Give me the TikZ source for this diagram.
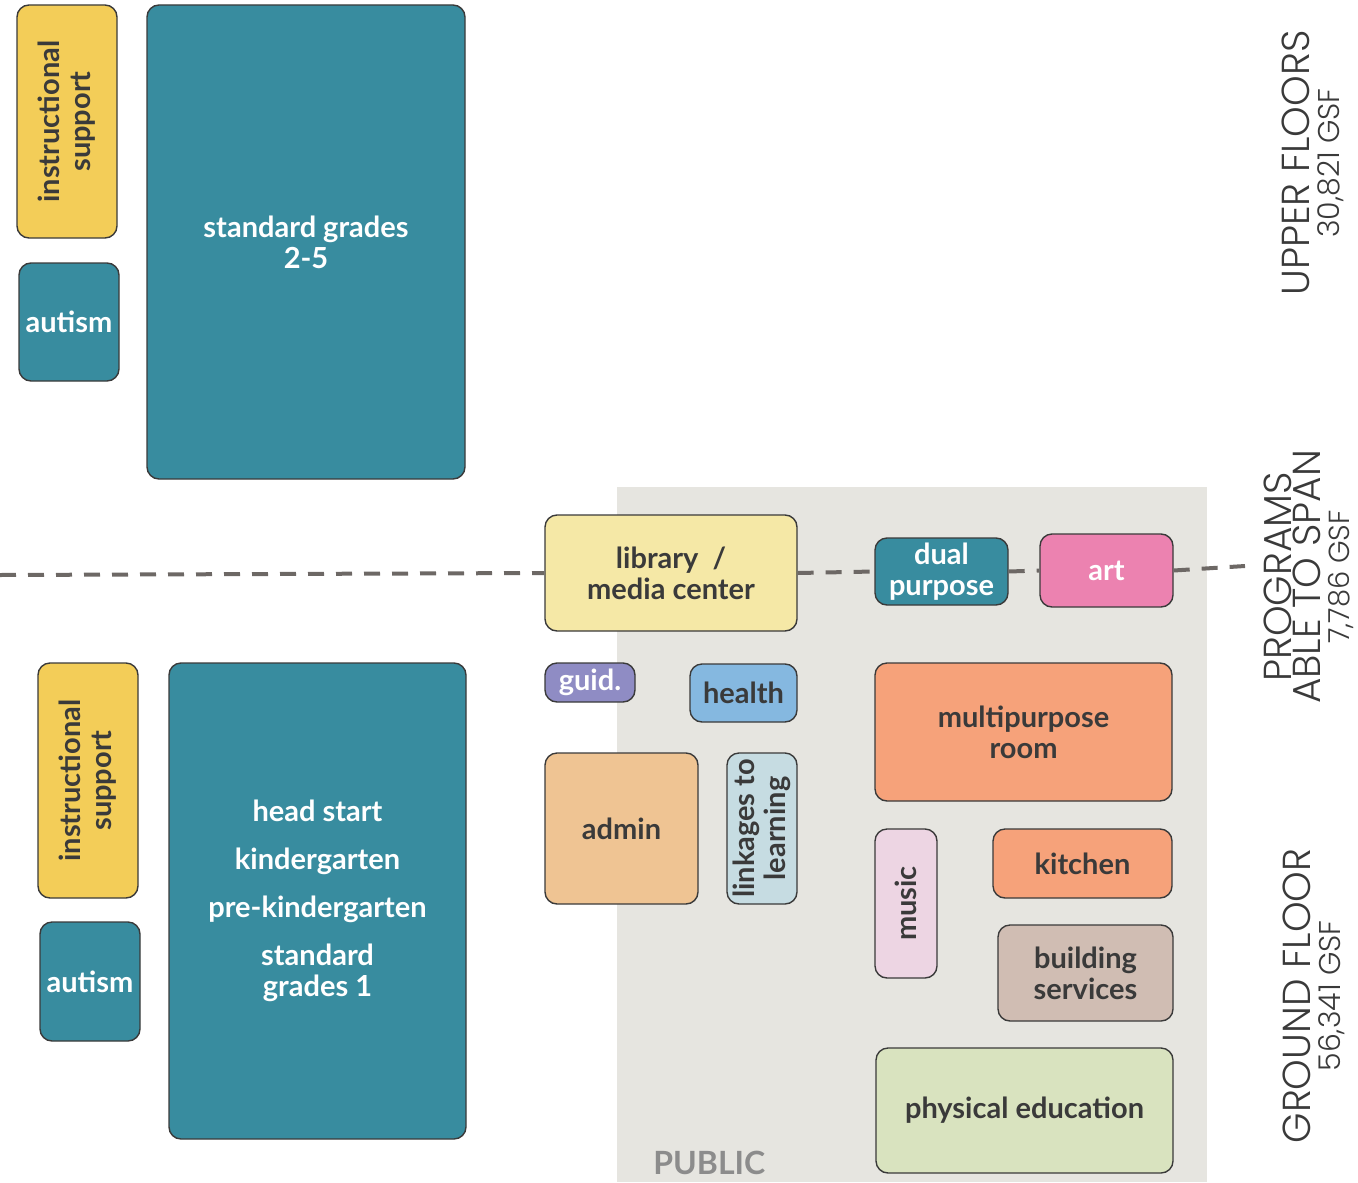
\documentclass[tikz,border=0pt]{standalone}
\usepackage{fontspec}
\IfFontExistsTF{Lato}{\setmainfont{Lato}}{\setmainfont{Open Sans}}
\IfFontExistsTF{Poppins Light}{\newfontfamily\floorfont{Poppins Light}}{\newfontfamily\floorfont{Lato}}
\definecolor{ink}{HTML}{3A3A3A}
\definecolor{teal}{HTML}{388C9F}
\definecolor{instr}{HTML}{F3CD58}
\definecolor{libcol}{HTML}{F5E8A6}
\definecolor{artcol}{HTML}{EC82B0}
\definecolor{guidcol}{HTML}{8F8CC4}
\definecolor{healthcol}{HTML}{85B8E0}
\definecolor{orangecol}{HTML}{F6A27A}
\definecolor{admincol}{HTML}{EFC493}
\definecolor{linkcol}{HTML}{C6DCE2}
\definecolor{musiccol}{HTML}{EDD5E3}
\definecolor{bldgcol}{HTML}{D0BDB3}
\definecolor{physcol}{HTML}{D9E3BF}
\definecolor{publiccol}{HTML}{E6E5E0}
\definecolor{linecol}{HTML}{6D6865}
\newcommand\roomfont{\bfseries\fontsize{14.5}{15.5}\selectfont}
\begin{document}
\begin{tikzpicture}[x=0.5pt,y=-0.5pt,
  room/.style={draw=ink,line width=0.7pt,rounded corners=6pt,inner sep=0pt,align=center,text=ink,font=\roomfont},
  teal room/.style={room,fill=teal,text=white},
  floor label/.style={rotate=90,align=center,text=ink,inner sep=0pt},
  span line/.style={draw=linecol,line width=2pt,dash pattern=on 8pt off 6pt}]
\useasboundingbox (0,0) rectangle (1358,1182);
% public zone
\fill[publiccol] (617,487) rectangle (1207,1182);
\node[text=gray!90,font=\bfseries\fontsize{16}{18}\selectfont,anchor=base west,inner sep=0pt] (public) at (653,1174) {PUBLIC};
% upper floors
\node[room,fill=instr,rotate=90,minimum width=116.5pt,minimum height=50pt] (upinst) at (67,121.5) {instructional\\support};
\node[teal room,minimum width=50pt,minimum height=59pt] (upaut) at (69,322) {autism};
\node[teal room,minimum width=159pt,minimum height=237pt] (upstd) at (306,242) {standard grades\\2-5};
% programs able to span
\coordinate (lineL) at (0,575);
\coordinate (lineR) at (1245,566);
\node[room,fill=libcol,minimum width=126pt,minimum height=58pt] (lib) at (671,573) {library\ \ /\\media center};
\node[teal room,minimum width=66.5pt,minimum height=33.5pt] (dual) at (941.5,571.5) {dual\\purpose};
\node[room,fill=artcol,text=white,minimum width=66.5pt,minimum height=36.5pt] (art) at (1106.5,570.5) {art};
\draw[span line] (lineL) -- (lib.west);
\draw[span line] (lib.east) -- (dual.west);
\draw[span line] (dual.east) -- (art.west);
\draw[span line] (art.east) -- (lineR);
% ground floor
\node[room,fill=guidcol,text=white,minimum width=45pt,minimum height=19.5pt] (guid) at (590,682.5) {guid.};
\node[room,fill=healthcol,minimum width=53.5pt,minimum height=29pt] (health) at (743.5,693) {health};
\node[room,fill=orangecol,minimum width=148.5pt,minimum height=69pt] (multi) at (1023.5,732) {multipurpose\\room};
\node[room,fill=admincol,minimum width=76.5pt,minimum height=75.5pt] (admin) at (621.5,828.5) {admin};
\node[room,fill=linkcol,rotate=90,minimum width=75.5pt,minimum height=35pt] (link) at (762,828.5) {linkages to\\learning};
\node[room,fill=musiccol,rotate=90,minimum width=74.5pt,minimum height=31pt] (music) at (906,903.5) {music};
\node[room,fill=orangecol,minimum width=89.5pt,minimum height=34.5pt] (kitchen) at (1082.5,863.5) {kitchen};
\node[room,fill=bldgcol,minimum width=87.5pt,minimum height=48pt] (bldg) at (1085.5,973) {building\\services};
\node[room,fill=physcol,minimum width=148.5pt,minimum height=62.5pt] (phys) at (1024.5,1110.5) {physical education};
\node[room,fill=instr,rotate=90,minimum width=117.5pt,minimum height=50pt] (loinst) at (88,780.5) {instructional\\support};
\node[teal room,minimum width=50pt,minimum height=59.5pt] (loaut) at (90,981.5) {autism};
\node[teal room,minimum width=148.5pt,minimum height=238pt] (lostd) at (317.5,901) {head start\\[8.5pt]kindergarten\\[8.5pt]pre-kindergarten\\[8.5pt]standard\\grades 1};
% floor labels
\node[floor label,font=\floorfont\fontsize{19.5}{15}\selectfont] (upper) at (1313,163) {UPPER FLOORS\\{\fontsize{15}{15}\selectfont 30,821 GSF}};
\node[floor label,font=\floorfont\fontsize{19.5}{14.5}\selectfont] (span) at (1309,577) {PROGRAMS\\ABLE TO SPAN\\{\fontsize{14.5}{14.5}\selectfont 7,786 GSF}};
\node[floor label,font=\floorfont\fontsize{19.5}{15}\selectfont] (ground) at (1314,996) {GROUND FLOOR\\{\fontsize{15}{15}\selectfont 56,341 GSF}};
\end{tikzpicture}
\end{document}
